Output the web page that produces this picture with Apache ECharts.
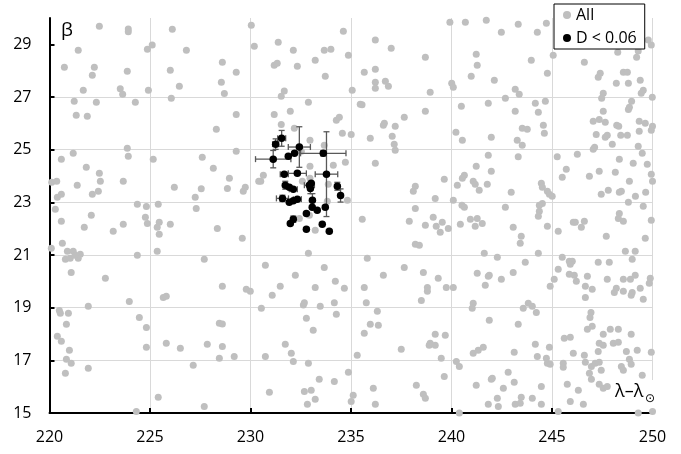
<!DOCTYPE html>
<html><head><meta charset="utf-8">
<script src="https://cdn.jsdelivr.net/npm/echarts@6/dist/echarts.min.js"></script>
<style>html,body{margin:0;padding:0;background:#fff}#c{width:681px;height:454px}</style>
</head><body><div id="c"></div>
<script>
// axis settings
const lambdaMin = 220, lambdaMax = 250, lambdaStep = 5;
const betaMin = 15, betaMax = 30, betaStep = 2;
const seriesNames = ['All', 'D < 0.06'];

// grey points: [λ−λ⊙, β]
const allPoints = [
[222.48,29.69],[223.92,29.58],[223.92,29.48],[226.11,29.57],[221.43,28.78],[224.87,28.81],[225.11,28.97],[226.81,28.78],[220.74,28.13],[222.23,28.13],
[222.13,27.83],[223.87,27.98],[226.01,28.02],[228.60,28.32],[228.55,27.56],[228.70,27.13],[221.68,27.26],[223.52,27.31],[223.64,27.10],[224.92,27.26],
[226.46,27.41],[221.23,26.84],[222.33,26.80],[224.27,26.80],[226.06,26.95],[221.33,26.31],[221.88,26.27],[228.30,25.78],[223.87,25.05],
[230.04,29.72],[234.62,29.50],[239.92,29.84],[230.19,28.93],[231.38,29.08],[232.13,28.78],[233.67,28.78],[234.00,28.81],[234.87,28.59],[236.21,29.16],
[237.00,28.85],[238.70,28.51],[229.29,27.94],[231.18,28.21],[231.33,28.28],[232.33,28.17],[233.22,28.40],[233.72,27.79],[235.66,27.94],[236.21,28.05],
[236.21,27.56],[236.21,27.33],[236.71,27.60],[236.86,27.41],[240.01,27.52],[240.09,27.37],[238.94,27.18],[231.68,27.23],[231.53,27.03],[232.88,26.80],
[235.06,27.26],[235.46,26.72],[235.55,26.71],[229.29,26.34],[231.18,26.34],[231.98,26.46],[234.27,26.12],[234.42,26.23],[237.65,26.23],[238.70,26.46],
[236.61,25.93],[236.66,26.00],[237.20,25.89],[231.53,25.96],[232.18,25.81],[234.57,25.62],[235.01,25.58],[235.96,25.43],[237.05,25.51],[237.15,25.21],
[237.20,24.98],[232.96,25.36],[233.67,25.17],[232.53,24.94],[229.29,24.94],
[240.69,29.84],[241.73,29.91],[242.48,29.46],[243.32,29.76],[244.27,29.46],[244.72,29.80],[249.79,29.16],[249.94,28.97],[248.27,28.70],[249.29,28.75],
[249.21,28.51],[241.23,28.62],[241.28,28.21],[240.98,27.79],[242.13,27.64],[243.97,28.40],[245.06,28.59],[244.77,27.90],[246.61,28.32],[247.40,27.90],
[247.30,27.75],[248.55,27.94],[248.75,27.94],[248.20,27.52],[248.80,27.52],[249.39,27.64],[243.17,27.29],[243.37,27.10],[242.68,26.95],[240.49,26.65],
[241.83,26.76],[243.17,26.46],[244.17,26.76],[244.67,26.84],[244.32,26.42],[247.55,27.14],[247.47,26.95],[249.54,27.26],[249.44,27.14],[249.99,26.99],
[248.96,26.84],[248.85,26.61],[248.80,26.53],[247.55,26.46],[247.05,26.08],[247.35,26.15],[247.65,26.04],[248.22,25.93],[248.32,25.89],[249.34,26.08],
[249.64,26.00],[250.00,25.89],[249.94,25.74],[249.34,25.70],[243.52,25.81],[243.77,25.78],[244.57,25.93],[244.62,25.62],[240.22,25.66],[240.54,25.36],
[241.98,25.47],[243.27,25.36],[243.52,25.17],[247.20,25.58],[247.65,25.47],[247.75,25.55],[248.00,25.21],[248.42,25.55],[248.75,25.55],[249.29,25.13],
[247.05,25.02],[247.12,25.09],[249.49,24.86],[241.83,24.79],[243.32,24.73],[245.26,24.73],[246.26,24.83],[248.35,24.64],
[220.59,24.64],[221.18,24.86],[223.92,24.75],[225.16,24.64],[227.60,24.71],[221.83,24.33],[222.48,24.10],[222.53,23.80],[220.11,23.76],[220.36,23.80],
[221.38,23.65],[223.67,23.80],[222.43,23.42],[222.13,23.31],[220.59,23.31],[220.39,23.19],[220.29,22.74],[224.37,22.93],[224.82,22.84],[225.41,22.93],
[226.21,23.57],[227.55,23.52],[227.25,23.19],[227.30,22.77],[228.15,24.29],[220.59,22.28],[222.08,22.51],[221.73,22.05],[223.17,21.90],[223.67,22.17],
[224.77,22.43],[224.87,22.20],[225.46,22.24],[225.36,22.05],[225.46,21.79],[226.01,22.17],[228.35,22.01],[220.09,21.26],[220.64,21.45],[220.89,21.14],
[221.18,21.14],[221.53,21.03],[220.79,20.84],[221.03,20.88],[221.43,20.88],[221.28,20.99],[221.08,20.34],[224.37,20.99],[225.36,21.14],[227.70,20.84],
[222.78,20.12],[225.66,19.39],[225.81,19.43],
[234.72,24.52],[236.21,24.48],[232.96,24.37],[234.12,24.41],[230.64,24.03],[228.95,23.91],[230.41,23.80],[230.51,23.80],[228.85,23.53],[229.74,23.57],
[229.64,23.42],[239.64,23.88],[238.20,23.61],[238.10,23.42],[239.19,23.15],[232.58,23.80],[232.96,23.91],[233.87,23.69],[234.82,23.08],[233.82,23.04],
[238.20,22.77],[235.56,22.36],[237.90,22.28],[238.70,22.13],[239.09,22.43],[239.54,22.24],[239.24,22.09],[239.44,21.86],[239.84,22.01],[232.43,22.39],
[232.93,22.51],[233.22,21.94],[229.59,21.64],[238.20,21.41],[238.40,21.37],[232.88,21.07],[235.81,20.88],[230.74,20.61],[233.67,20.53],[237.65,20.53],
[238.60,20.34],[232.23,20.23],[236.61,20.23],[239.34,20.12],[234.22,20.00],[231.48,19.81],[228.60,19.81],[229.79,19.70],[229.99,19.62],[233.22,19.77],
[234.67,19.74],[235.66,19.77],[238.80,19.77],[238.80,19.62],[239.74,19.77],[231.08,19.47],
[241.23,24.37],[241.98,24.18],[240.64,24.03],[240.54,23.91],[240.29,23.65],[241.08,23.80],[241.18,23.69],[241.38,23.46],[241.78,23.69],[242.97,23.38],
[240.09,23.08],[240.52,22.89],[240.64,22.81],[242.68,22.81],[244.47,23.72],[244.52,23.57],[244.77,23.42],[244.87,23.31],[245.01,23.23],[244.52,22.96],
[244.37,22.89],[244.37,22.66],[244.32,22.47],[245.51,23.95],[245.71,24.26],[246.86,23.99],[247.35,24.18],[249.04,24.48],[249.74,24.45],[248.15,24.14],
[248.85,23.80],[249.94,24.07],[250.00,23.80],[247.45,23.31],[247.80,23.46],[248.35,23.38],[248.45,23.42],[249.15,23.23],[249.66,23.38],[248.80,23.00],
[249.54,22.85],[248.35,22.58],[248.30,22.39],[248.55,22.28],[249.94,22.32],[240.94,22.36],[241.28,22.39],[241.18,22.09],[241.53,22.20],[240.44,22.17],
[243.07,22.05],[243.47,21.71],[243.42,21.45],[244.77,22.09],[245.31,21.90],[246.06,22.24],[246.16,22.24],[246.61,22.28],[246.46,22.05],[247.70,21.71],
[249.64,21.64],[248.65,21.14],[249.14,21.14],[248.99,20.84],[241.63,21.07],[242.28,20.91],[244.32,21.07],[243.67,20.72],[245.51,20.91],[245.86,20.76],
[246.01,20.76],[245.91,20.65],[247.30,20.72],[247.85,20.72],[245.31,20.46],[241.28,20.31],[241.88,20.23],[241.83,20.19],[243.07,20.34],[242.48,20.08],
[245.86,20.27],[246.11,20.23],[246.21,20.00],[246.76,20.19],[247.75,20.08],[248.55,20.08],[248.90,20.08],[249.14,20.23],[249.89,20.12],[249.84,19.93],
[245.11,20.08],[244.91,19.81],[241.68,19.85],[240.09,19.77],[246.66,19.81],[247.00,19.70],[246.66,19.39],[248.20,19.74],[248.10,19.58],[248.55,19.62],
[248.99,19.58],[248.94,19.47],[249.39,19.74],[249.54,19.32],
[223.97,19.23],[220.49,18.89],[220.54,18.79],[220.94,18.79],[221.93,19.05],[224.47,18.63],[224.82,18.25],[220.84,18.37],[220.39,17.91],[220.59,17.72],
[220.99,17.38],[220.84,17.04],[221.08,16.89],[220.79,16.51],[221.93,16.70],[224.82,17.50],[225.81,17.65],[226.51,17.46],[227.15,16.81],[227.85,17.61],
[228.45,18.41],[228.60,18.38],[228.60,17.53],[228.45,17.08],[225.41,15.60],[224.32,15.06],[227.70,15.25],
[230.54,18.98],[232.63,19.10],[232.68,19.19],[233.47,19.05],[234.17,19.19],[235.76,19.19],[238.50,19.27],[236.31,18.86],[232.78,18.60],[234.27,18.75],
[235.96,18.37],[236.36,18.33],[233.12,18.14],[235.66,18.03],[229.19,17.15],[230.74,17.15],[231.73,17.61],[232.03,17.27],[232.13,16.96],[232.88,16.89],
[235.31,17.19],[237.50,17.42],[239.19,17.99],[239.69,17.95],[238.94,17.65],[238.89,17.57],[239.19,17.57],[239.49,17.08],[239.64,16.39],[234.87,16.55],
[233.42,16.28],[234.17,16.20],[230.94,15.79],[232.68,15.82],[233.02,15.86],[233.22,15.52],[232.83,15.33],[235.11,15.67],[235.01,15.44],[236.11,15.94],
[236.21,15.33],[238.25,16.05],[238.60,15.71],[238.70,15.56],
[241.08,19.17],[241.03,18.98],[243.57,18.98],[243.82,19.17],[244.02,19.05],[244.22,18.82],[241.88,18.52],[243.32,18.37],[246.94,18.82],[246.89,18.63],
[247.00,18.29],[246.76,18.18],[245.61,17.84],[245.91,17.88],[247.55,17.99],[247.90,18.18],[248.30,18.18],[248.94,17.99],[247.35,17.65],[247.55,17.57],
[248.05,17.65],[248.30,17.69],[244.17,17.61],[244.87,17.50],[241.08,17.27],[241.33,17.38],[241.58,17.50],[243.12,17.31],[244.27,17.15],[246.06,17.27],
[246.61,17.19],[247.30,17.34],[248.70,17.34],[249.24,17.38],[249.94,17.31],[240.24,16.96],[240.39,16.77],[244.72,17.08],[244.77,16.89],[244.91,16.85],
[245.56,16.89],[245.56,16.74],[246.66,16.93],[246.96,16.77],[247.15,16.89],[247.35,16.93],[246.86,16.51],[246.96,16.28],[247.45,16.62],[248.45,16.77],
[248.55,16.62],[248.85,17.04],[248.94,16.85],[249.49,16.43],[242.82,16.55],[241.23,16.05],[241.98,16.28],[242.03,16.32],[243.12,16.17],[242.58,15.94],
[244.47,16.01],[245.76,16.09],[246.31,15.86],[247.35,16.09],[247.55,15.94],[247.75,16.01],[242.28,15.56],[241.83,15.33],[242.33,15.25],[243.17,15.33],
[243.47,15.60],[243.42,15.37],[244.02,15.56],[244.47,15.33],[245.91,15.44],[246.56,15.33],[245.31,15.06],[240.39,15.00],[249.29,15.00],[250.00,15.06]
];

// selected points (D < 0.06): [λ−λ⊙, β]
const selPoints = [
[231.55,25.43],[231.25,25.21],[232.43,25.10],[232.19,24.86],[231.88,24.75],[231.13,24.64],[233.62,24.86],[231.68,24.07],
[232.33,24.10],[233.78,24.07],[231.73,23.65],[231.93,23.57],[232.13,23.50],[232.93,23.65],[233.02,23.72],[232.98,23.53],
[234.32,23.61],[234.48,23.26],[231.59,23.15],[231.93,23.00],[232.13,23.06],[232.33,23.12],[233.08,23.08],[233.07,22.81],
[233.32,22.70],[233.72,22.81],[232.78,22.58],[232.13,22.36],[231.98,22.20],[233.57,22.17],[232.78,21.98],[233.92,21.90]
];
// error half-widths for the selected points
const selErrLambda = [0.2,0.15,0.55,0,0,0.88,1.13,0.2, 0.45,0.56,0,0,0.2,0.25,0,0, 0,0,0.3,0,0,0.2,0,0, 0,0,0,0,0,0,0,0];
const selErrBeta   = [0.3,0.2,0.77,0,0,0.33,0.1,0, 0,1.61,0.15,0,0,0,0,0.2, 0.15,0.25,0.12,0,0,0,0.25,0, 0,0,0,0.12,0,0,0,0];

const errData = selPoints.map((p, i) => [p[0], p[1], selErrLambda[i], selErrBeta[i]]);

const chart = echarts.init(document.getElementById('c'), null, {renderer: 'canvas'});
const FONT = 'Open Sans';
chart.setOption({
  animation: false,
  grid: {left: 49.5, right: 28.5, top: 18, bottom: 41, containLabel: false, outerBoundsMode: 'none'},
  xAxis: {
    type: 'value', min: lambdaMin, max: lambdaMax, interval: lambdaStep,
    axisLine: {show: true, onZero: false, lineStyle: {color: '#000', width: 2}},
    axisTick: {show: true, inside: true, length: 5, lineStyle: {color: '#000', width: 2}},
    axisLabel: {margin: 16, fontSize: 16, fontFamily: FONT, color: '#000'},
    splitLine: {show: true, showMinLine: false, lineStyle: {color: '#d9d9d9', width: 1}}
  },
  yAxis: {
    type: 'value', min: betaMin, max: betaMax, interval: betaStep,
    axisLine: {show: true, onZero: false, lineStyle: {color: '#000', width: 2}},
    axisTick: {show: true, inside: true, length: 5, lineStyle: {color: '#000', width: 2}, customValues: [15,17,19,21,23,25,27,29]},
    axisLabel: {margin: 18, fontSize: 16, fontFamily: FONT, color: '#000', showMaxLabel: false},
    splitLine: {show: true, showMinLine: false, showMaxLine: false, lineStyle: {color: '#d9d9d9', width: 1}}
  },
  legend: {
    data: seriesNames, orient: 'vertical', left: 554, top: 4,
    backgroundColor: '#fff', borderColor: '#000', borderWidth: 1, borderRadius: 0,
    padding: [1, 8, 1, 9], itemGap: 3, itemWidth: 8, itemHeight: 8, icon: 'circle',
    textStyle: {fontSize: 16, fontFamily: FONT, color: '#000', lineHeight: 20}
  },
  graphic: [
    {type: 'text', left: 61, top: 21, z: 10, style: {text: 'β', fontSize: 19, fontFamily: FONT, fill: '#000'}},
    {type: 'rect', shape: {x: 612, y: 380, width: 52, height: 30}, z: 1, style: {fill: '#fff'}},
    {type: 'text', left: 615, top: 383, z: 10, style: {text: 'λ–λ', fontSize: 18, fontFamily: FONT, fill: '#000'}},
    {type: 'text', left: 645, top: 393, z: 10, style: {text: '⊙', fontSize: 12, fontStyle: 'italic', fontFamily: 'DejaVu Sans', fill: '#000'}}
  ],
  series: [
    {name: seriesNames[0], type: 'scatter', data: allPoints, symbol: 'circle', symbolSize: 7, clip: false, z: 2,
     itemStyle: {color: '#bfbfbf', opacity: 1}},
    {name: 'err', type: 'custom', data: errData, z: 3, clip: false,
     encode: {x: 0, y: 1},
     renderItem: function (params, api) {
       const x = api.value(0), y = api.value(1), ex = api.value(2), ey = api.value(3);
       const c = api.coord([x, y]);
       const st = {stroke: '#595959', lineWidth: 1.3};
       const cap = 3;
       const ch = [];
       if (ex > 0) {
         const l = api.coord([x - ex, y])[0], r = api.coord([x + ex, y])[0];
         ch.push({type: 'line', shape: {x1: l, y1: c[1], x2: r, y2: c[1]}, style: st});
         ch.push({type: 'line', shape: {x1: l, y1: c[1] - cap, x2: l, y2: c[1] + cap}, style: st});
         ch.push({type: 'line', shape: {x1: r, y1: c[1] - cap, x2: r, y2: c[1] + cap}, style: st});
       }
       if (ey > 0) {
         const t = api.coord([x, y + ey])[1], b = api.coord([x, y - ey])[1];
         ch.push({type: 'line', shape: {x1: c[0], y1: t, x2: c[0], y2: b}, style: st});
         ch.push({type: 'line', shape: {x1: c[0] - cap, y1: t, x2: c[0] + cap, y2: t}, style: st});
         ch.push({type: 'line', shape: {x1: c[0] - cap, y1: b, x2: c[0] + cap, y2: b}, style: st});
       }
       return {type: 'group', children: ch};
     }},
    {name: seriesNames[1], type: 'scatter', data: selPoints, symbol: 'circle', symbolSize: 7.5, clip: false, z: 4,
     itemStyle: {color: '#000', opacity: 1}}
  ]
});
</script>
</body></html>
